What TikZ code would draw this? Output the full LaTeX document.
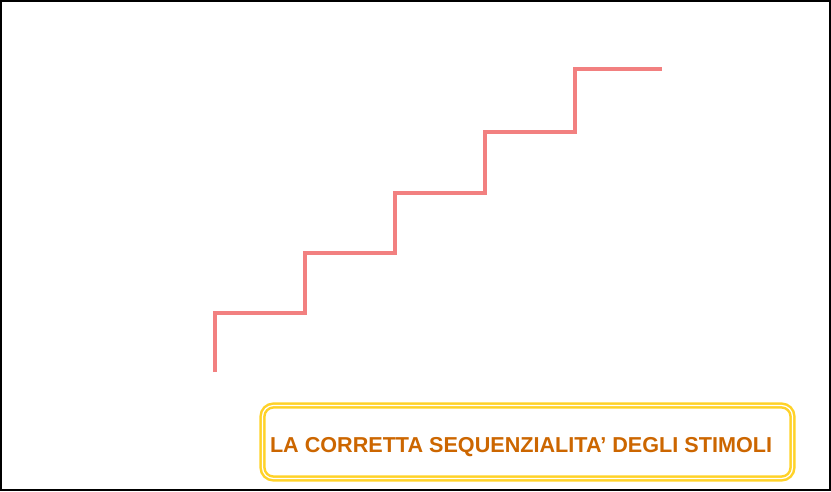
\documentclass[tikz,border=0pt]{standalone}
\usepackage{fontspec}
\setmainfont{Liberation Sans}
\definecolor{stairred}{RGB}{242,128,128}
\definecolor{boxyellow}{RGB}{255,210,40}
\definecolor{titleorange}{RGB}{204,102,0}
\begin{document}
\begin{tikzpicture}[x=1pt, y=-1pt,
    stair/.style={draw=stairred, line width=4.5pt},
    framebox/.style={draw=boxyellow, line width=2.5pt, double=white, double distance=1.2pt,
        rounded corners=11pt, minimum width=530pt, minimum height=73pt, inner sep=0pt},
    titletext/.style={text=titleorange, font=\bfseries\fontsize{21.6}{25}\selectfont, inner sep=0pt}]
        \useasboundingbox (0, 0) rectangle (831, 491);
        \draw [line width=2pt] (1, 1) rectangle (830, 490);
        % the steps
        \draw [stair] (215, 372) -- (215, 313) -- (305, 313) -- (305, 253) -- (395, 253)
            -- (395, 193) -- (485, 193) -- (485, 132) -- (575, 132) -- (575, 69) -- (662, 69);
        \node [framebox] (box) at (527.5, 442) {};
        \node [titletext, anchor=base] (title) at (521, 452) {LA CORRETTA SEQUENZIALITA’ DEGLI STIMOLI};
    \end{tikzpicture}
\end{document}
